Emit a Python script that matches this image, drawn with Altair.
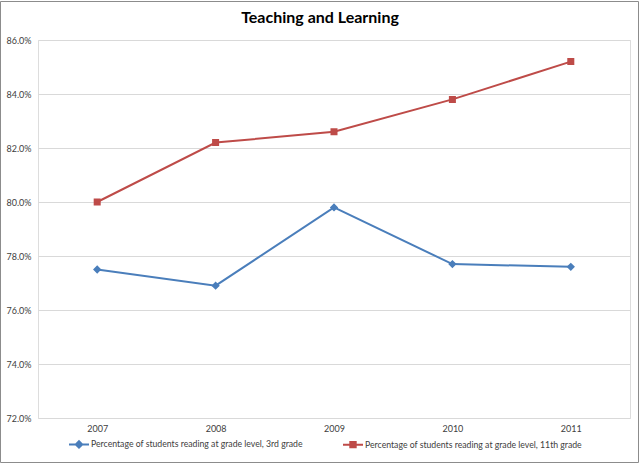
import altair as alt
import pandas as pd

years = ["2007", "2008", "2009", "2010", "2011"]
s3_name = "Percentage of students reading at grade level, 3rd grade"
s11_name = "Percentage of students reading at grade level, 11th grade"
s3_values = [77.5, 76.9, 79.8, 77.7, 77.6]
s11_values = [80.0, 82.2, 82.6, 83.8, 85.2]
y_ticks = [72, 74, 76, 78, 80, 82, 84, 86]

BLUE = "#4A7EBB"
RED = "#BE4B48"

rows = []
for y, v in zip(years, s3_values):
    rows.append({"year": y, "series": s3_name, "value": v})
for y, v in zip(years, s11_values):
    rows.append({"year": y, "series": s11_name, "value": v})
df = pd.DataFrame(rows)

FONT = "Lato"
series_domain = [s3_name, s11_name]
color_scale = alt.Scale(domain=series_domain, range=[BLUE, RED])
# line segment + marker; the line part only shows where a stroke is drawn (legend)
shape_scale = alt.Scale(
    domain=series_domain,
    range=[
        "M-1,0L1,0M0,-0.32L0.32,0L0,0.32L-0.32,0Z",
        "M-1,0L1,0M-0.27,-0.27L0.27,-0.27L0.27,0.27L-0.27,0.27Z",
    ],
)

x_enc = alt.X(
    "year:N",
    sort=years,
    scale=alt.Scale(type="point", padding=0.5),
    axis=alt.Axis(
        title=None, labelAngle=0, domain=False, ticks=False, grid=False,
        labelPadding=6, labelFont=FONT, labelFontSize=9, labelColor="#404040",
    ),
)
y_enc = alt.Y(
    "value:Q",
    scale=alt.Scale(domain=[72, 86], nice=False, zero=False),
    axis=alt.Axis(
        title=None, values=y_ticks, domain=False, ticks=False,
        gridColor="#D9D9D9", gridWidth=1,
        labelExpr="format(datum.value, '.1f') + '%'",
        labelPadding=7, labelFont=FONT, labelFontSize=9, labelColor="#404040",
    ),
)


def make_legend():
    return alt.Legend(
        title=None, orient="none", legendX=30, legendY=393,
        direction="horizontal", columnPadding=36, labelLimit=400,
        labelFont=FONT, labelFontSize=8.7, labelColor="#404040", labelOffset=1,
        symbolSize=400, symbolStrokeWidth=2, symbolOpacity=1,
    )


base = alt.Chart(df)

lines = base.mark_line(strokeWidth=2).encode(
    x=x_enc, y=y_enc,
    color=alt.Color("series:N", scale=color_scale, legend=make_legend()),
)
points = base.mark_point(opacity=1, size=676).encode(
    x=x_enc, y=y_enc,
    fill=alt.Fill("series:N", scale=color_scale, legend=make_legend()),
    stroke=alt.Stroke("series:N", scale=color_scale, legend=make_legend()),
    shape=alt.Shape("series:N", scale=shape_scale, legend=make_legend()),
    strokeWidth=alt.value(0),
)

border = alt.Chart(pd.DataFrame({"a": [0]})).mark_rect(
    fill=None, stroke="#8C8C8C", strokeWidth=1
).encode(
    x=alt.value(-37.5), x2=alt.value(600.5),
    y=alt.value(-38.5), y2=alt.value(422.5),
)

chart = alt.layer(lines, points, border).properties(
    width=592,
    height=378,
    title=alt.TitleParams(
        "Teaching and Learning", font=FONT, fontSize=16, fontWeight="bold",
        color="#000000", anchor="middle", frame="group", dx=-14, dy=17,
        offset=-16, baseline="middle",
    ),
    autosize=alt.AutoSizeParams(type="none"),
    padding={"left": 38, "top": 40, "right": 10, "bottom": 46},
).configure_view(stroke=None).configure(background="white")

chart.save("out.html", embed_options={"renderer": "svg", "actions": False})
